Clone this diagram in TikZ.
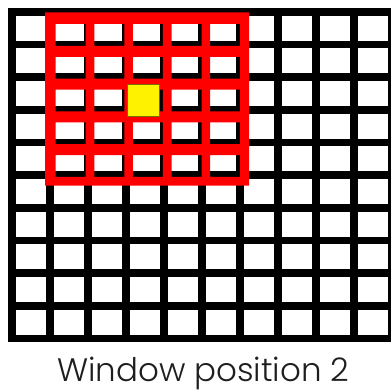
\documentclass[tikz,border=0pt]{standalone}
\usepackage{fontspec}
\setmainfont{Poppins}[UprightFont=* Light]
\begin{document}
\begin{tikzpicture}[x=1pt,y=-1pt]
\useasboundingbox (0,0) rectangle (391,390);
% black grid
\fill[black] (8,8) rectangle (396,342.4);
\foreach \i in {0,...,9}{
  \foreach \j in {0,...,9}{
    \fill[white] ({16.3+38*\i},{15.7+32.67*\j}) rectangle ({45.7+38*\i},{40.7+32.67*\j});
  }
}
% red window
\fill[red,even odd rule] (45,12.3) rectangle (249,185.7)
  foreach \k in {0,...,4}{ foreach \m in {0,...,4}{
    ({55.7+38.6*\k},{24+32.8*\m}) rectangle ({85.7+38.6*\k},{45.8+32.8*\m})
  } };
% centre cell
\draw[fill=yellow,draw={rgb,255:red,120;green,110;blue,0},line width=0.8pt] (127.5,84.5) rectangle (159.1,116.5);
% caption
\node[anchor=base,inner sep=0pt,font=\fontsize{32.5}{36}\selectfont,text={rgb,255:red,30;green,30;blue,30}] (cap) at (203.3,381) {Window position 2};
\end{tikzpicture}
\end{document}
